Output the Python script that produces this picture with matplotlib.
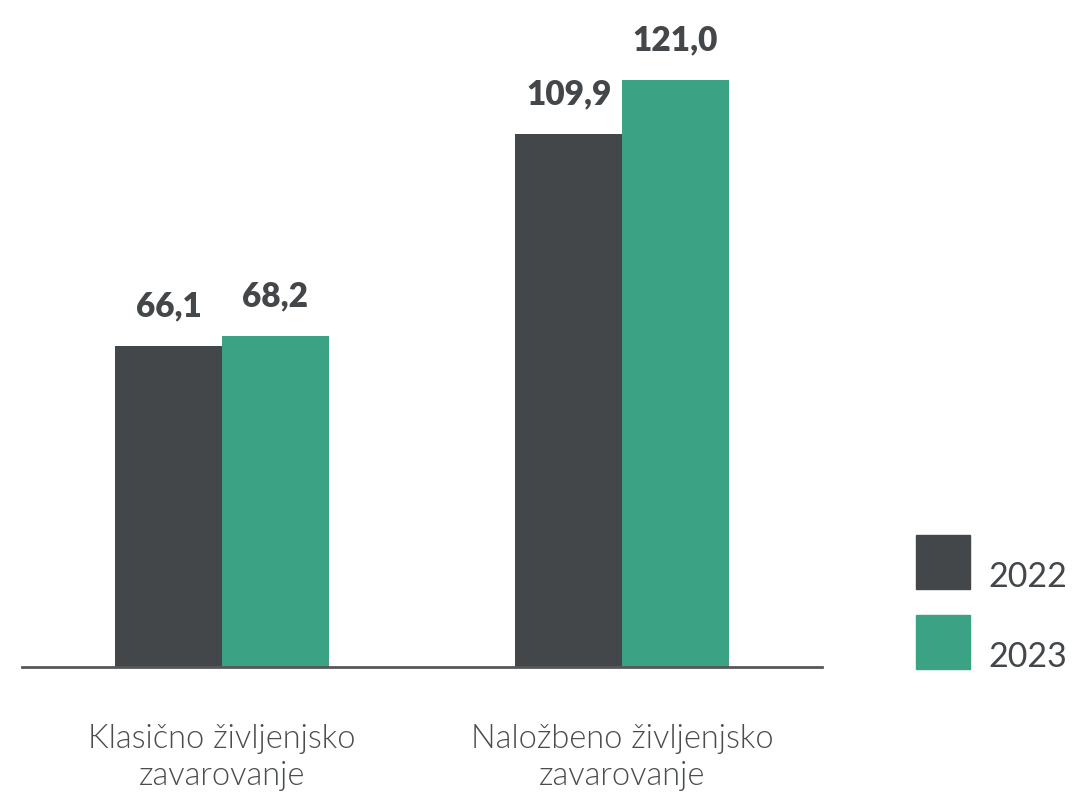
import matplotlib.pyplot as plt
from matplotlib.patches import Rectangle
import numpy as np

categories = ["Klasično življenjsko\nzavarovanje", "Naložbeno življenjsko\nzavarovanje"]
years = ["2022", "2023"]
values_2022 = [66.1, 109.9]
values_2023 = [68.2, 121.0]

colors = ["#43474a", "#3ba283"]
text_color = "#43474a"

plt.rcParams['font.family'] = ['Lato', 'DejaVu Sans']

fig = plt.figure(figsize=(10.72, 7.93), dpi=100)
ax = fig.add_axes([22 / 1072, 126 / 793, 800 / 1072, 631 / 793])

x = np.arange(len(categories))
width = 0.267
series = [values_2022, values_2023]
for i, (vals, col) in enumerate(zip(series, colors)):
    offs = (i - 0.5) * width
    bars = ax.bar(x + offs, vals, width, color=col, zorder=2)
    for b, v in zip(bars, vals):
        ax.annotate(f"{v:.1f}".replace(".", ","),
                    (b.get_x() + b.get_width() / 2, v),
                    xytext=(0, 17), textcoords="offset points",
                    ha="center", va="bottom", fontsize=24,
                    fontweight="heavy", color=text_color)

ax.set_xlim(-0.5, 1.5)
ax.set_ylim(0, 130)
for s in ["top", "right", "left"]:
    ax.spines[s].set_visible(False)
ax.spines["bottom"].set_color("#555759")
ax.spines["bottom"].set_linewidth(2)
ax.set_yticks([])
ax.set_xticks(x)
ax.set_xticklabels(categories, fontsize=23.5, fontweight=300,
                   color="#4a4d50", linespacing=1.3)
ax.tick_params(axis="x", length=0, pad=41)

# legend drawn by hand: squares with the year beside them
for i, (yr, col) in enumerate(zip(years, colors)):
    top = 535 + i * 80
    fig.add_artist(Rectangle((916 / 1072, 1 - (top + 54) / 793), 54 / 1072, 54 / 793,
                             transform=fig.transFigure, color=col))
    fig.text(988 / 1072, 1 - (top + 52) / 793, yr, fontsize=24.5,
             color=text_color, ha="left", va="baseline")

fig.savefig("out.png", dpi=100)
